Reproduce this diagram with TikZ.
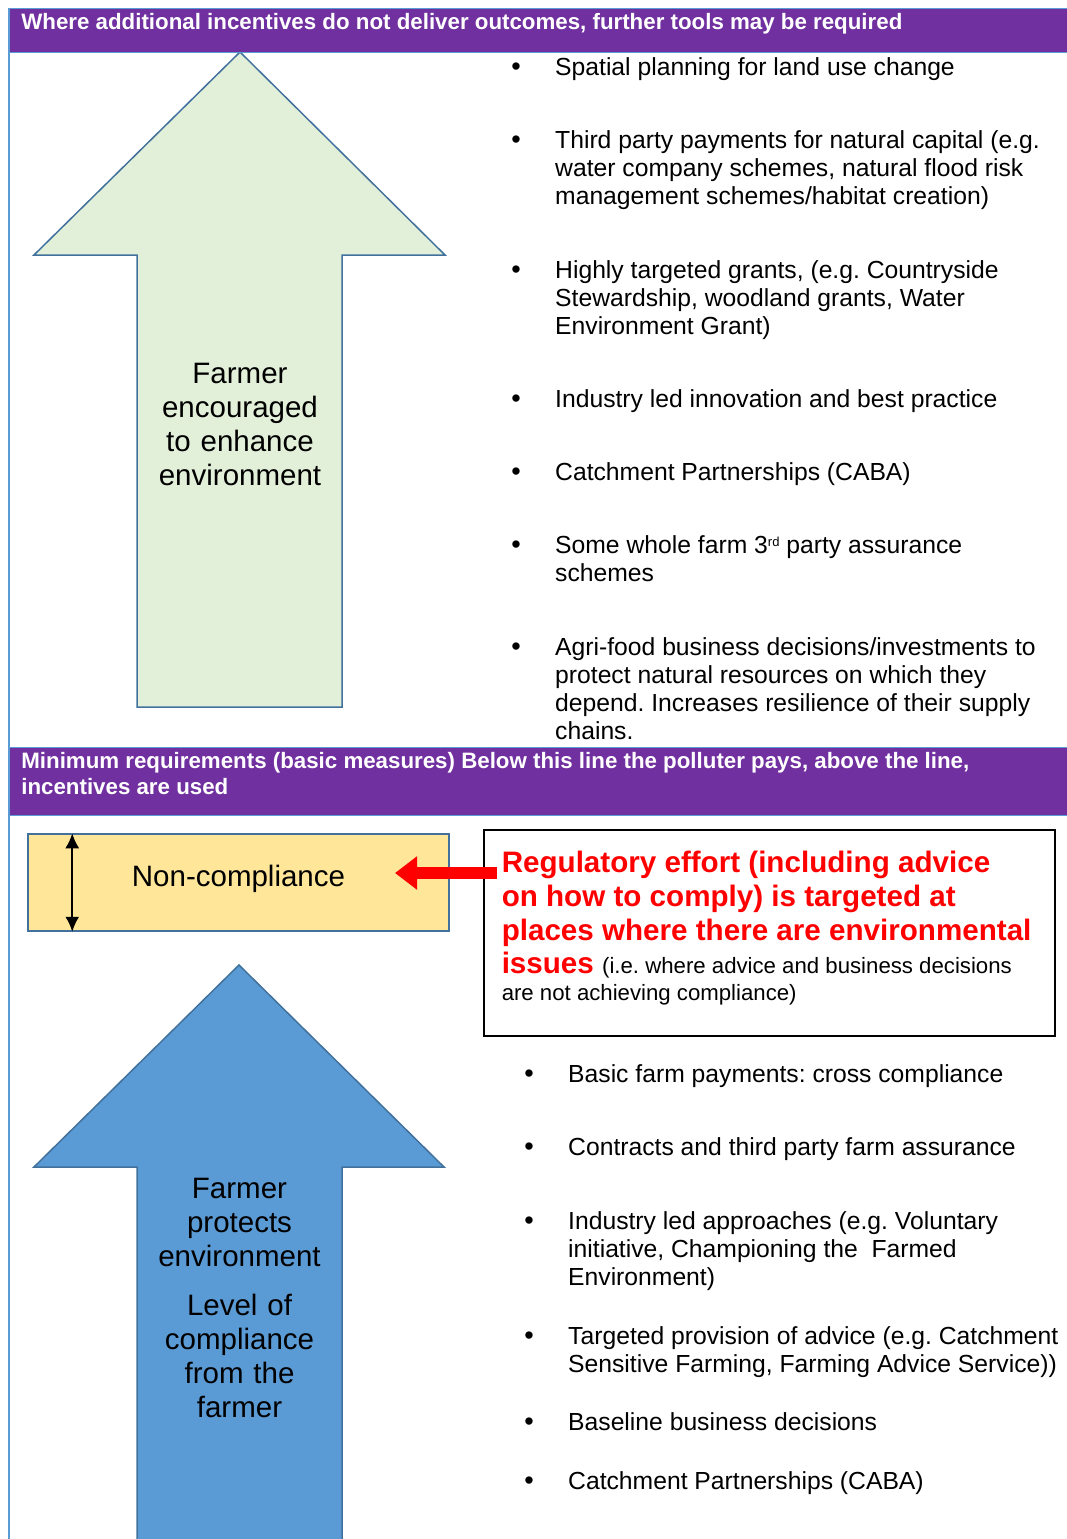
\documentclass[tikz,border=0pt]{standalone}
\usepackage{fontspec}
\setmainfont{Liberation Sans}
\usepackage{tikz}
\usetikzlibrary{arrows.meta}
\frenchspacing
\definecolor{morado}{RGB}{112,48,160}
\definecolor{azul}{RGB}{91,155,213}
\definecolor{azulOscuro}{RGB}{65,113,156}
\definecolor{verdeClaro}{RGB}{226,240,217}
\definecolor{amarillo}{RGB}{255,230,153}
\definecolor{rojo}{RGB}{255,0,0}
\tikzstyle{banda}  =[draw=azul, fill=morado, line width=1.5pt, text=white,
                     anchor=north west, align=flush left, text width=1050pt,
                     inner xsep=12pt, inner ysep=0pt,
                     font=\fontsize{22.3}{25.8}\selectfont\bfseries]
\tikzstyle{flecha} =[draw=azulOscuro, line width=1.5pt, line join=miter]
\tikzstyle{punto}  =[anchor=base, inner sep=0pt,
                     font=\fontsize{27}{28.3}\selectfont]
\tikzstyle{renglon}=[anchor=base west, inner sep=0pt, align=flush left,
                     text width=505pt, font=\fontsize{24.7}{28.3}\selectfont]
\tikzstyle{rotulo} =[anchor=base, inner sep=0pt, align=center,
                     text width=200pt, font=\fontsize{29.5}{34}\selectfont]
\tikzstyle{caja}   =[draw=azulOscuro, fill=amarillo, line width=1.5pt,
                     minimum width=421pt, minimum height=97pt,
                     text height=21.5pt, text depth=14.5pt,
                     font=\fontsize{29.5}{34}\selectfont]
\tikzstyle{regla}  =[draw=black, line width=1.5pt, anchor=north west,
                     inner xsep=18pt, inner ysep=0pt, text width=535pt,
                     text height=43pt, text depth=163pt, align=flush left,
                     text=rojo, font=\fontsize{29.6}{34}\selectfont\bfseries]

\begin{document}
\begin{tikzpicture}[x=1pt,y=-1pt]
    \useasboundingbox (0,0) rectangle (1066,1539);

    \draw [flecha,fill=verdeClaro] (137,707) -- (137,255) -- (34,255) -- (240,52)
        -- (445,255) -- (342,255) -- (342,707) -- cycle;
    \draw [flecha,fill=azul] (137,1560) -- (137,1167) -- (34,1167) -- (239,965)
        -- (444,1167) -- (342,1167) -- (342,1560) -- cycle;
    \draw [azul,line width=2pt] (8.6,7.6) -- (8.6,1545);

    \draw (8.6,7.6) node (arriba) [banda,text height=21.4pt,text depth=22.5pt]
        {Where additional incentives do not deliver outcomes, further tools may be required};
    \draw (8.6,746.5) node (minimo) [banda,text height=21.5pt,text depth=46.5pt]
        {Minimum requirements (basic measures) Below this line the polluter pays, above the line,\\incentives are used};

    \draw (240,383) node (mejora) [rotulo] {Farmer\\encouraged\\to enhance\\environment};
    \draw (239.5,1198) node (protege) [rotulo]
        {Farmer\\protects\\environment\\[15pt]Level of\\compliance\\from the\\farmer};

    \foreach \i/\y/\txt in {1/75/{Spatial planning for land use change},
        2/148/{Third party payments for natural capital (e.g.\\water company schemes, natural flood risk\\management schemes/habitat creation)},
        3/278/{Highly targeted grants, (e.g. Countryside\\Stewardship, woodland grants, Water\\Environment Grant)},
        4/407/{Industry led innovation and best practice},
        5/480/{Catchment Partnerships (CABA)},
        6/553/{Some whole farm 3{\fontsize{13}{13}\selectfont\raisebox{7pt}{rd}} party assurance\\schemes},
        7/655/{Agri-food business decisions/investments to\\protect natural resources on which they\\depend. Increases resilience of their supply\\chains.}}
    {
        \draw (516,\y) node (p\i) [punto] {\textbullet};
        \draw (555,\y) node (t\i) [renglon] {\txt};
    }

    \foreach \i/\y/\txt in {1/1082/{Basic farm payments: cross compliance},
        2/1155/{Contracts and third party farm assurance},
        3/1229/{Industry led approaches (e.g. Voluntary\\initiative, Championing the\ \ Farmed\\Environment)},
        4/1344/{Targeted provision of advice (e.g. Catchment\\Sensitive Farming, Farming Advice Service))},
        5/1430/{Baseline business decisions},
        6/1489/{Catchment Partnerships (CABA)}}
    {
        \draw (529,\y) node (q\i) [punto] {\textbullet};
        \draw (568,\y) node (s\i) [renglon] {\txt};
    }

    \draw (238.5,882.5) node (nc) [caja] {Non-compliance};
    \draw [<->,>={Latex[length=15pt,width=14pt]},line width=2pt]
        ([xshift=45pt]nc.north west) -- ([xshift=45pt]nc.south west);

    \draw (483,829) node (reg) [regla] {Regulatory effort (including advice\\on how to comply) is targeted at\\places where there are environmental\\[4pt]issues {\fontsize{22.2}{26}\selectfont\mdseries\color{black} (i.e. where advice and business decisions\\[-7pt]are not achieving compliance)}};

    \coordinate (punta) at (395,873);
    \draw [rojo,line width=12pt,shorten <=-14pt,-{Triangle[length=22pt,width=32pt]}]
        (reg.west |- punta) -- (punta);

\end{tikzpicture}
\end{document}
